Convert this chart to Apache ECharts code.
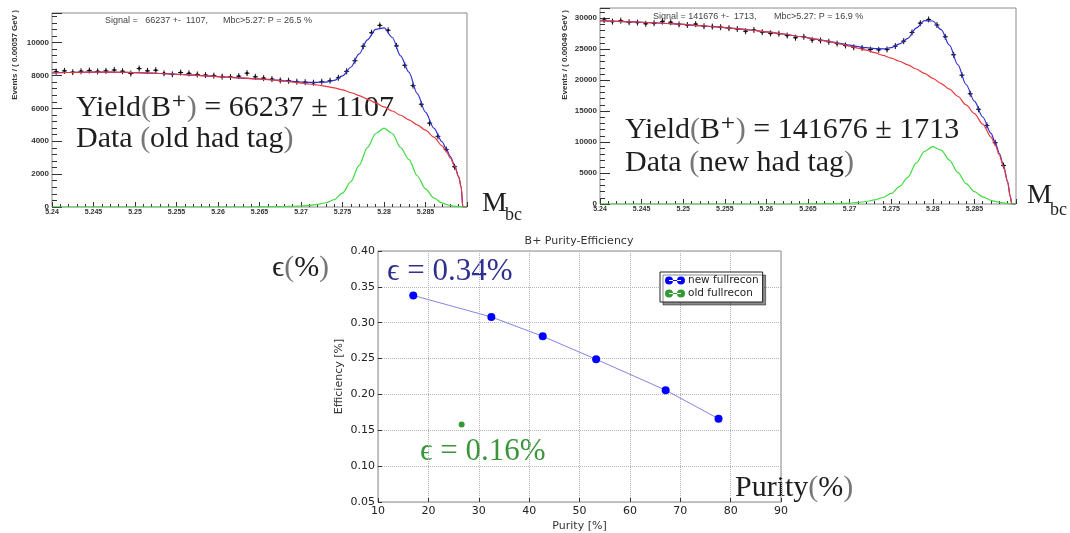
<!DOCTYPE html>
<html>
<head>
<meta charset="utf-8">
<script src="https://cdn.jsdelivr.net/npm/echarts@6/dist/echarts.min.js"></script>
<style>
  html, body { margin: 0; padding: 0; background: #fff; }
  #chart { width: 1070px; height: 533px; }
</style>
</head>
<body>
<div id="chart"></div>
<script>
/* Mbc fit curves, sampled along x */
var curveX = [5.240, 5.242, 5.244, 5.246, 5.248, 5.250, 5.252, 5.254, 5.256, 5.258, 5.260, 5.262, 5.264,
  5.266, 5.267, 5.268, 5.269, 5.270, 5.271, 5.272, 5.273, 5.274, 5.275, 5.276, 5.277, 5.278, 5.279,
  5.280, 5.281, 5.282, 5.283, 5.284, 5.285, 5.286, 5.287, 5.2875, 5.288, 5.2885, 5.289, 5.2893, 5.2895, 5.290];

/* old had tag */
var oldBkg = [8150, 8180, 8200, 8205, 8195, 8170, 8140, 8100, 8050, 7990, 7930, 7870, 7810,
  7750, 7700, 7650, 7595, 7540, 7480, 7420, 7340, 7250, 7120, 6960, 6780, 6560, 6330,
  6090, 5840, 5580, 5300, 5000, 4670, 4250, 3720, 3380, 2980, 2480, 1820, 1200, 0, 0];
var oldSig = [0, 0, 0, 0, 0, 0, 0, 0, 0, 0, 0, 0, 0,
  10, 20, 30, 45, 60, 100, 160, 260, 450, 850, 1540, 2530, 3610, 4470,
  4800, 4470, 3610, 2900, 1900, 1100, 550, 250, 160, 90, 50, 25, 15, 0, 0];
var oldTot = [8150, 8180, 8200, 8205, 8195, 8170, 8140, 8100, 8050, 7990, 7930, 7870, 7810,
  7760, 7720, 7680, 7640, 7600, 7580, 7580, 7600, 7700, 7970, 8500, 9310, 10170, 10800,
  10890, 10310, 9190, 8200, 6900, 5770, 4800, 3970, 3540, 3070, 2530, 1845, 1215, 0, 0];

/* new had tag */
var newBkg = [29600, 29500, 29400, 29300, 29150, 29000, 28800, 28600, 28350, 28100, 27800, 27450, 27050,
  26600, 26350, 26100, 25800, 25500, 25180, 24850, 24450, 24000, 23550, 23050, 22450, 21800, 21100,
  20300, 19450, 18550, 17400, 16000, 14600, 12900, 10800, 9500, 7900, 6000, 3500, 1200, 0, 0];
var newSig = [0, 0, 0, 0, 0, 0, 0, 0, 0, 0, 0, 0, 0,
  20, 40, 60, 100, 150, 250, 400, 650, 1050, 1700, 2800, 4300, 6600, 8500,
  9250, 8700, 7100, 5100, 3300, 2000, 1150, 600, 420, 280, 180, 100, 60, 0, 0];
var newTot = [29600, 29500, 29400, 29300, 29150, 29000, 28800, 28600, 28350, 28100, 27800, 27450, 27050,
  26620, 26390, 26160, 25900, 25650, 25430, 25250, 25100, 25050, 25250, 25850, 26750, 28400, 29600,
  29550, 28150, 25650, 22500, 19300, 16600, 14050, 11400, 9920, 8180, 6180, 3600, 1260, 0, 0];

/* data points (bin centres) */
var binX = [5.2405, 5.2415, 5.2425, 5.2435, 5.2445, 5.2455, 5.2465, 5.2475, 5.2485, 5.2495,
  5.2505, 5.2515, 5.2525, 5.2535, 5.2545, 5.2555, 5.2565, 5.2575, 5.2585, 5.2595,
  5.2605, 5.2615, 5.2625, 5.2635, 5.2645, 5.2655, 5.2665, 5.2675, 5.2685, 5.2695,
  5.2705, 5.2715, 5.2725, 5.2735, 5.2745, 5.2755, 5.2765, 5.2775, 5.2785, 5.2795,
  5.2805, 5.2815, 5.2825, 5.2835, 5.2845, 5.2855, 5.2865, 5.2875, 5.2885];
var oldData = [8230, 8280, 8200, 8260, 8300, 8250, 8280, 8330, 8260, 8120,
  8420, 8280, 8320, 8130, 8070, 8180, 8130, 8060, 8020, 7990,
  7930, 7910, 7960, 8140, 7920, 7840, 7780, 7700, 7680, 7620,
  7590, 7560, 7620, 7680, 7860, 8250, 8900, 9780, 10600, 11050,
  10750, 9800, 8620, 7380, 6250, 5100, 4300, 3500, 2450];
var newData = [29700, 29450, 29600, 29350, 29300, 29100, 29200, 29450, 29350, 29000,
  28900, 29050, 28700, 28650, 28550, 28400, 28250, 27900, 28100, 27750,
  27550, 27500, 27200, 26850, 27000, 26500, 26400, 26200, 25900, 25600,
  25300, 25200, 24950, 24900, 24950, 25500, 26300, 27700, 29200, 29800,
  28900, 27000, 24100, 20800, 17800, 15300, 12700, 9900, 6200];

/* purity vs efficiency */
var purityNew = [17.0, 32.5, 42.7, 53.3, 67.1, 77.6];
var effNew = [0.338, 0.308, 0.281, 0.249, 0.206, 0.166];
var purityOld = [26.6];
var effOld = [0.158];

function pairs(xs, ys) {
  var out = [];
  for (var i = 0; i < xs.length; i++) out.push([xs[i], ys[i]]);
  return out;
}

/* ROOT style data marker: small cross with a dot */
function crossItem(params, api) {
  var p = api.coord([api.value(0), api.value(1)]);
  return {
    type: 'group',
    children: [
      { type: 'line', shape: { x1: p[0] - 2.5, y1: p[1], x2: p[0] + 2.5, y2: p[1] }, style: { stroke: '#111', lineWidth: 1 } },
      { type: 'line', shape: { x1: p[0], y1: p[1] - 3, x2: p[0], y2: p[1] + 3 }, style: { stroke: '#111', lineWidth: 1 } },
      { type: 'circle', shape: { cx: p[0], cy: p[1], r: 1.3 }, style: { fill: '#111' } }
    ]
  };
}

var SERIF = "'Liberation Serif', 'DejaVu Serif', serif";
var SANS = "'Liberation Sans', Arial, sans-serif";
var DJ = "'DejaVu Sans', sans-serif";

function mbcX(idx) {
  return {
    type: 'value', gridIndex: idx, min: 5.24, max: 5.29, interval: 0.005,
    axisLine: { show: false },
    axisTick: { inside: true, length: 5, lineStyle: { color: '#333' } },
    minorTick: { show: true, splitNumber: 5, length: 3, lineStyle: { color: '#333' } },
    splitLine: { show: false },
    axisLabel: {
      fontSize: 7, fontWeight: 'bold', fontFamily: SANS, color: '#333', margin: 2, showMaxLabel: false,
      formatter: function (v) { return String(+v.toFixed(4)); }
    }
  };
}
function evY(idx, max, step) {
  return {
    type: 'value', gridIndex: idx, min: 0, max: max, interval: step,
    axisLine: { show: false },
    axisTick: { inside: true, length: 10, lineStyle: { color: '#333' } },
    minorTick: { show: true, splitNumber: 5, length: 5, lineStyle: { color: '#333' } },
    splitLine: { show: false },
    axisLabel: {
      fontSize: 8, fontWeight: 'bold', fontFamily: SANS, color: '#333', margin: 3, showMaxLabel: false,
      formatter: function (v) { return String(Math.round(v)); }
    }
  };
}
function fitLine(idx, ys, color, name) {
  return {
    type: 'line', name: name, xAxisIndex: idx, yAxisIndex: idx, data: pairs(curveX, ys),
    showSymbol: false, symbol: 'none', smooth: 0.3, smoothMonotone: 'x',
    lineStyle: { color: color, width: 1.2 }, clip: true, silent: true
  };
}
function bigText(x, y, parts) {
  return {
    type: 'text', x: x, y: y, silent: true,
    style: {
      text: parts, fontSize: 30, fontFamily: SERIF, fill: '#1e1e1e',
      textVerticalAlign: 'middle', verticalAlign: 'middle',
      rich: { t: { fill: '#1e1e1e', fontSize: 30, fontFamily: SERIF }, p: { fill: '#777', fontSize: 30, fontFamily: SERIF } }
    }
  };
}
function plainText(x, y, text, size, family, color, extra) {
  var el = {
    type: 'text', x: x, y: y, silent: true,
    style: { text: text, fontSize: size, fontFamily: family, fill: color, textVerticalAlign: 'middle', verticalAlign: 'middle' }
  };
  if (extra) for (var k in extra) el.style[k] = extra[k];
  return el;
}

var LEG_ICON = 'path://M0,4a4,4 0 1,0 8,0a4,4 0 1,0 -8,0ZM12,4a4,4 0 1,0 8,0a4,4 0 1,0 -8,0ZM4,3.4H16V4.6H4Z';

var chart = echarts.init(document.getElementById('chart'));
var option = {
  animation: false,
  backgroundColor: '#fff',
  title: {
    text: 'B+ Purity-Efficiency', left: 579, top: 236, textAlign: 'center', padding: 0,
    textStyle: { fontSize: 11, fontWeight: 'normal', fontFamily: DJ, color: '#333' }
  },
  legend: {
    data: [{ name: 'new fullrecon', icon: LEG_ICON }, { name: 'old fullrecon', icon: LEG_ICON }],
    orient: 'vertical', left: 660, top: 272, itemWidth: 20, itemHeight: 8, itemGap: 2,
    padding: [3, 4, 3, 5], backgroundColor: '#fff', borderColor: '#222', borderWidth: 1, borderRadius: 0,
    shadowColor: 'rgba(0,0,0,0.45)', shadowOffsetX: 3, shadowOffsetY: 3, shadowBlur: 0,
    textStyle: { fontSize: 10.5, fontFamily: DJ, color: '#222', padding: [0, 0, 0, -2] },
    selectedMode: false
  },
  grid: [
    { left: 52, top: 13, width: 415, height: 194, show: true, borderColor: '#8a8a8a', borderWidth: 1, backgroundColor: '#fff' },
    { left: 600, top: 8, width: 416, height: 196, show: true, borderColor: '#8a8a8a', borderWidth: 1, backgroundColor: '#fff' },
    { left: 378, top: 251, width: 403, height: 255, show: true, borderColor: '#8a8a8a', borderWidth: 1, backgroundColor: '#fff' }
  ],
  xAxis: [
    mbcX(0),
    mbcX(1),
    {
      type: 'value', gridIndex: 2, min: 10, max: 90, interval: 10,
      name: 'Purity [%]', nameLocation: 'middle', nameGap: 19,
      nameTextStyle: { fontSize: 11, fontFamily: DJ, color: '#333' },
      axisLine: { show: false },
      axisTick: { inside: true, length: 4, lineStyle: { color: '#333' } },
      splitLine: { show: true, lineStyle: { type: 'dotted', color: '#b5b5b5' } },
      axisLabel: { fontSize: 11, fontFamily: DJ, color: '#222', margin: 4 }
    }
  ],
  yAxis: [
    evY(0, 11800, 2000),
    evY(1, 31650, 5000),
    {
      type: 'value', gridIndex: 2, min: 0.05, max: 0.40, interval: 0.05,
      name: 'Efficiency [%]', nameLocation: 'middle', nameGap: 33,
      nameTextStyle: { fontSize: 11, fontFamily: DJ, color: '#333' },
      axisLine: { show: false },
      axisTick: { inside: true, length: 4, lineStyle: { color: '#333' } },
      splitLine: { show: true, lineStyle: { type: 'dotted', color: '#b5b5b5' } },
      axisLabel: { fontSize: 11, fontFamily: DJ, color: '#222', margin: 3, formatter: function (v) { return v.toFixed(2); } }
    }
  ],
  series: [
    { type: 'custom', name: 'old data', xAxisIndex: 0, yAxisIndex: 0, data: pairs(binX, oldData), renderItem: crossItem, silent: true },
    fitLine(0, oldTot, '#2f2fd6', 'old total'),
    fitLine(0, oldBkg, '#e8383e', 'old background'),
    fitLine(0, oldSig, '#3fdc3f', 'old signal'),
    { type: 'custom', name: 'new data', xAxisIndex: 1, yAxisIndex: 1, data: pairs(binX, newData), renderItem: crossItem, silent: true },
    fitLine(1, newTot, '#2f2fd6', 'new total'),
    fitLine(1, newBkg, '#e8383e', 'new background'),
    fitLine(1, newSig, '#3fdc3f', 'new signal'),
    {
      type: 'line', name: 'new fullrecon', xAxisIndex: 2, yAxisIndex: 2, data: pairs(purityNew, effNew),
      symbol: 'circle', symbolSize: 8, showSymbol: true,
      itemStyle: { color: '#0000ff' }, lineStyle: { color: '#8585e0', width: 1 }
    },
    {
      type: 'scatter', name: 'old fullrecon', xAxisIndex: 2, yAxisIndex: 2, data: pairs(purityOld, effOld),
      symbol: 'circle', symbolSize: 6, itemStyle: { color: '#007f00' }
    }
  ],
  graphic: [
    plainText(105, 21, 'Signal =   66237 +-  1107,      Mbc>5.27: P = 26.5 %', 9, SANS, '#444'),
    plainText(653, 17, 'Signal = 141676 +-  1713,       Mbc>5.27: P = 16.9 %', 9, SANS, '#444'),
    plainText(15, 10, 'Events / ( 0.00057 GeV )', 8, SANS, '#333', { fontWeight: 'bold', textAlign: 'right', align: 'right' }),
    plainText(565, 10, 'Events / ( 0.00049 GeV )', 8, SANS, '#333', { fontWeight: 'bold', textAlign: 'right', align: 'right' }),
    bigText(76, 108, '{t|Yield}{p|(}{t|B⁺}{p|)}{t| = 66237 ± 1107}'),
    bigText(76, 139, '{t|Data }{p|(}{t|old had tag}{p|)}'),
    bigText(625, 130, '{t|Yield}{p|(}{t|B⁺}{p|)}{t| = 141676 ± 1713}'),
    bigText(625, 163, '{t|Data }{p|(}{t|new had tag}{p|)}'),
    plainText(482, 204, 'M', 28, SERIF, '#1e1e1e'),
    plainText(505, 215, 'bc', 18, SERIF, '#1e1e1e'),
    plainText(1027, 196, 'M', 28, SERIF, '#1e1e1e'),
    plainText(1050, 210, 'bc', 18, SERIF, '#1e1e1e'),
    bigText(272, 268, '{t|ϵ}{p|(}{t|%}{p|)}'),
    plainText(387, 272, 'ϵ = 0.34%', 31, SERIF, '#2f2f8f'),
    plainText(420, 452, 'ϵ = 0.16%', 31, SERIF, '#3a963a'),
    bigText(735, 488, '{t|Purity}{p|(}{t|%}{p|)}')
  ]
};
// rotate the y axis titles of the Mbc plots
option.graphic[2].rotation = Math.PI / 2;
option.graphic[3].rotation = Math.PI / 2;
chart.setOption(option);
</script>
</body>
</html>
